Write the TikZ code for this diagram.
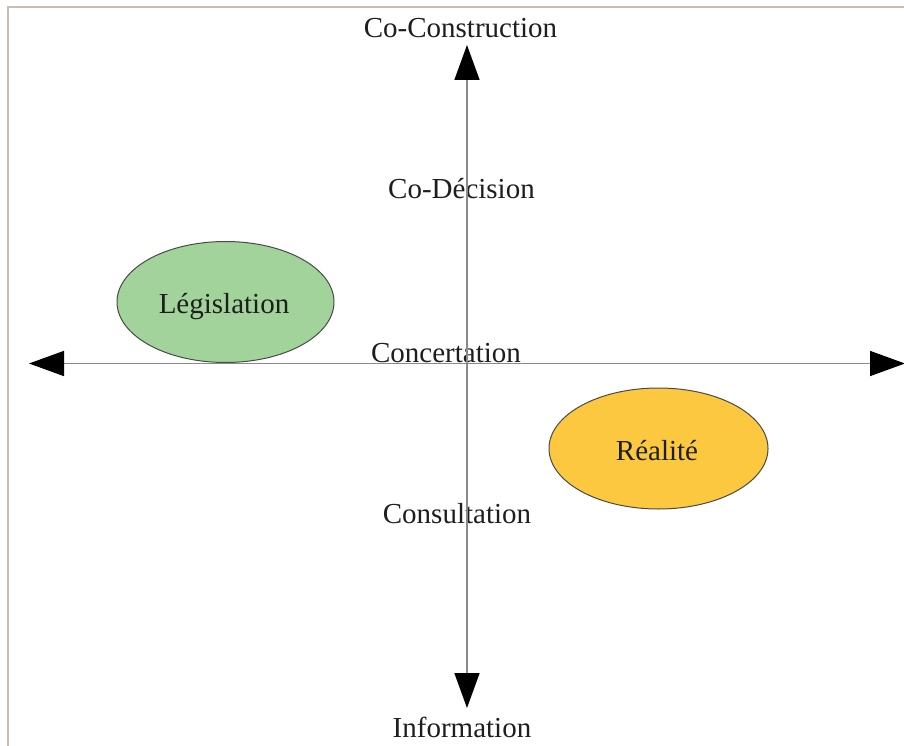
\documentclass[tikz,border=0pt]{standalone}
\usepackage{fontspec}
\setmainfont{Liberation Serif}
\usetikzlibrary{arrows.meta,shapes.geometric}
\definecolor{framecol}{HTML}{CBBDB3}
\definecolor{axiscol}{HTML}{8A8A8A}
\definecolor{greenfill}{HTML}{A2D39A}
\definecolor{orangefill}{HTML}{FCC83F}
\definecolor{edgecol}{HTML}{4A4A4A}
\definecolor{txtcol}{HTML}{1E1E1E}
\tikzset{
  lvl/.style={anchor=base, inner sep=0pt, text=txtcol, font=\fontsize{29}{32}\selectfont},
  blob/.style={ellipse, draw=edgecol, line width=1pt, inner sep=0pt},
  axis/.style={draw=axiscol, line width=1.6pt,
    {Triangle[length=35pt,width=25pt,color=black]}-{Triangle[length=35pt,width=25pt,color=black]}},
  frameline/.style={draw=framecol, line width=1.6pt}
}
\begin{document}
\begin{tikzpicture}[x=1pt,y=-1pt]
\useasboundingbox (0,0) rectangle (904,746);
\fill[white] (0,0) rectangle (904,746);
% frame
\coordinate (fbl) at (8,746);
\coordinate (ftl) at (8,7);
\coordinate (ftr) at (904,7);
\draw[frameline] (fbl) -- (ftl) -- (ftr);
% labels
\node[lvl] (cc) at (460.5,38) {Co-Construction};
\node[lvl] (cd) at (461.5,198) {Co-Décision};
\node[lvl] (ct) at (446,362) {Concertation};
\node[lvl] (cs) at (457,523) {Consultation};
\node[lvl] (inf) at (462,737) {Information};
% ellipses
\node[blob, fill=greenfill, minimum width=217pt, minimum height=121pt] (leg) at (225.5,302) {};
\node[lvl] (legt) at (224,313) {Législation};
\node[blob, fill=orangefill, minimum width=219pt, minimum height=121pt] (rea) at (658.5,448.5) {};
\node[lvl] (reat) at (657,460) {Réalité};
% axes
\coordinate (W) at (29,363.5);
\coordinate (E) at (905,363.5);
\coordinate (N) at (467,45);
\coordinate (S) at (467,708);
\draw[axis] (W) -- (E);
\draw[axis] (S) -- (N);
\end{tikzpicture}
\end{document}
